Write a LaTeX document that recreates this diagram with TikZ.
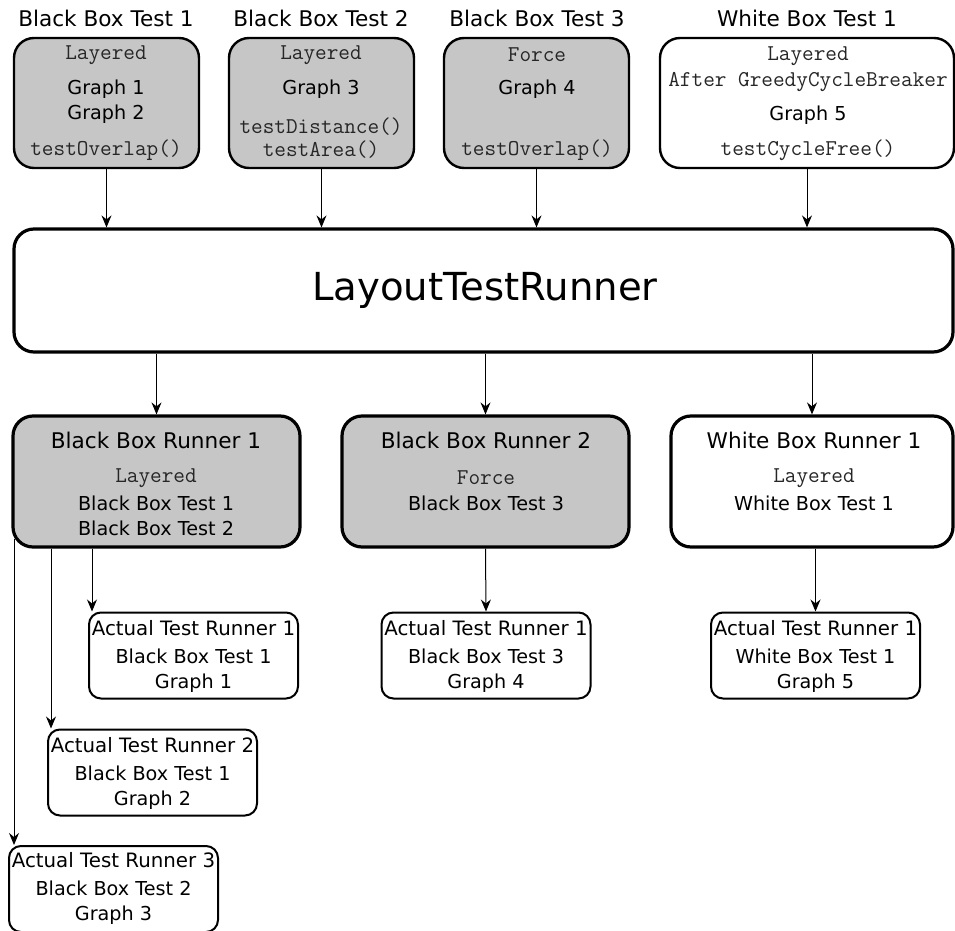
\documentclass[tikz,border=0pt]{standalone}
\usepackage{fontspec}
\setmainfont{DejaVu Sans}
\usetikzlibrary{arrows.meta}
\definecolor{boxgray}{RGB}{198,198,198}

\begin{document}
\begin{tikzpicture}[x=0.5pt,y=-0.5pt,
  testbox/.style={draw,line width=1.2pt,rounded corners=10pt,minimum width=92.5pt,minimum height=65pt,inner sep=0pt},
  runbox/.style={draw,line width=1.6pt,rounded corners=10pt,minimum height=65.5pt,inner sep=0pt},
  actbox/.style={draw,line width=1pt,rounded corners=6pt,minimum width=104.5pt,minimum height=43pt,inner sep=0pt},
  bb/.style={fill=boxgray},
  ttl/.style={font=\fontsize{10.8}{12.6}\selectfont,inner sep=0pt},
  txt/.style={font=\fontsize{9.6}{12.5}\selectfont,align=center,inner sep=0pt},
  code/.style={font=\ttfamily\fontsize{11.3}{13}\selectfont,text=black!85,align=center,inner sep=0pt},
  arr/.style={-{Stealth[length=6pt,width=5pt,inset=2pt]},line width=0.5pt}]
  \useasboundingbox (0,0) rectangle (955,931);
  % ---------- tests ----------
  \node[testbox,bb] (bbt1) at (106.5,103) {};
  \node[testbox,bb] (bbt2) at (321.5,103) {};
  \node[testbox,bb] (bbt3) at (536.5,103) {};
  \node[testbox,minimum width=147pt] (wbt1) at (807,103) {};
  \node[ttl] (t1) at (106,18) {Black Box Test 1};
  \node[ttl] (t2) at (321,18) {Black Box Test 2};
  \node[ttl] (t3) at (537,18) {Black Box Test 3};
  \node[ttl] (t4) at (807,18) {White Box Test 1};
  \node[code] (l1) at (106,55) {Layered};
  \node[txt] (g1) at (106,101.5) {Graph 1\\Graph 2};
  \node[code] (m1) at (106,150) {testOverlap()};
  \node[code] (l2) at (321,55) {Layered};
  \node[txt] (g2) at (321,89) {Graph 3};
  \node[code,font=\ttfamily\fontsize{11.3}{11.5}\selectfont] (m2) at (321,138.5) {testDistance()\\testArea()};
  \node[code] (l3) at (537,55) {Force};
  \node[txt] (g3) at (537,89) {Graph 4};
  \node[code] (m3) at (537,150) {testOverlap()};
  \node[code] (l4) at (808,69) {Layered\\After GreedyCycleBreaker};
  \node[txt] (g4) at (808,115) {Graph 5};
  \node[code] (m4) at (808,150) {testCycleFree()};
  % ---------- main runner ----------
  \node[runbox,minimum width=469.5pt,minimum height=61.5pt] (ltr) at (483.5,290.5) {};
  \node[font=\fontsize{19.3}{23}\selectfont,inner sep=0pt] (ltrtxt) at (485,290) {LayoutTestRunner};
  \foreach \t in {bbt1,bbt2,bbt3,wbt1}
    \draw[arr] (\t.south) -- (\t.south |- ltr.north);
  % ---------- box runners ----------
  \node[runbox,bb,minimum width=143.5pt] (bbr1) at (156.5,481.5) {};
  \node[runbox,bb,minimum width=143.5pt] (bbr2) at (485.5,481.5) {};
  \node[runbox,minimum width=141pt] (wbr1) at (812,481.5) {};
  \node[ttl] (r1) at (156,440) {Black Box Runner 1};
  \node[code] (rl1) at (156,478) {Layered};
  \node[txt] (rt1) at (156,515.5) {Black Box Test 1\\Black Box Test 2};
  \node[ttl] (r2) at (486,440) {Black Box Runner 2};
  \node[code] (rl2) at (486,478) {Force};
  \node[txt] (rt2) at (486,503) {Black Box Test 3};
  \node[ttl] (r3) at (814,440) {White Box Runner 1};
  \node[code] (rl3) at (814,478) {Layered};
  \node[txt] (rt3) at (814,503) {White Box Test 1};
  \foreach \r in {bbr1,bbr2,wbr1}
    \draw[arr] (ltr.south -| \r.north) -- (\r.north);
  % ---------- actual runners ----------
  \node[actbox] (atr1) at (193.5,655.5) {};
  \node[actbox] (atr4) at (486,655.5) {};
  \node[actbox] (atr5) at (815.5,655.5) {};
  \node[actbox] (atr2) at (152.5,772.5) {};
  \node[actbox] (atr3) at (113.5,889) {};
  \node[txt,font=\fontsize{9.9}{12.5}\selectfont] (a1) at (193.5,628) {Actual Test Runner 1};
  \node[txt] (b1) at (193.5,670.5) {Black Box Test 1\\Graph 1};
  \node[txt,font=\fontsize{9.9}{12.5}\selectfont] (a4) at (486,628) {Actual Test Runner 1};
  \node[txt] (b4) at (486,670.5) {Black Box Test 3\\Graph 4};
  \node[txt,font=\fontsize{9.9}{12.5}\selectfont] (a5) at (815.5,628) {Actual Test Runner 1};
  \node[txt] (b5) at (815.5,670.5) {White Box Test 1\\Graph 5};
  \node[txt,font=\fontsize{9.9}{12.5}\selectfont] (a2) at (152.5,745) {Actual Test Runner 2};
  \node[txt] (b2) at (152.5,787.5) {Black Box Test 1\\Graph 2};
  \node[txt,font=\fontsize{9.9}{12.5}\selectfont] (a3) at (113.5,860) {Actual Test Runner 3};
  \node[txt] (b3) at (113.5,902.5) {Black Box Test 2\\Graph 3};
  \draw[arr] (bbr2.south) -- (atr4.north);
  \draw[arr] (wbr1.south -| atr5.north) -- (atr5.north);
  \coordinate (c1) at ([xshift=2pt]atr1.north west);
  \coordinate (c2) at ([xshift=2pt]atr2.north west);
  \coordinate (c3) at ([xshift=3pt]atr3.north west);
  \coordinate (s3) at (c3 |- bbr1.south);
  \draw[arr] (c1 |- bbr1.south) -- (c1);
  \draw[arr] (c2 |- bbr1.south) -- (c2);
  \draw[arr] ([yshift=5pt]s3) -- (c3);
\end{tikzpicture}
\end{document}
